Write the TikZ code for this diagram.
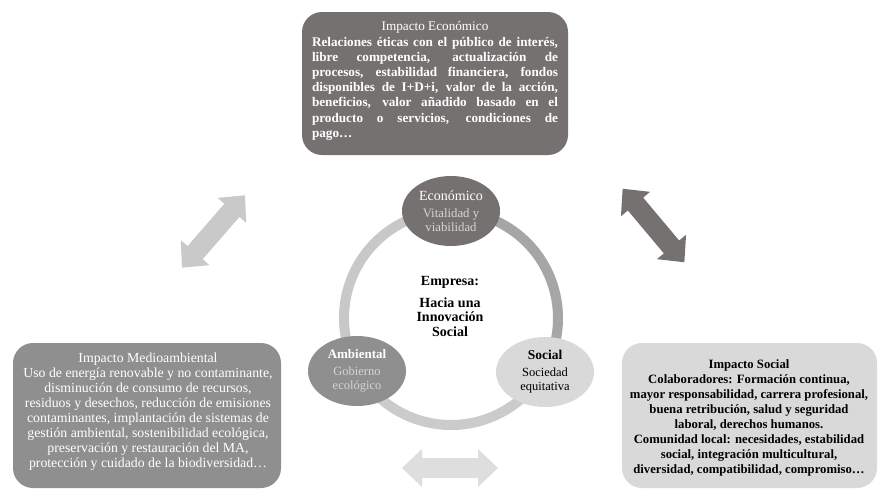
\documentclass[tikz,border=0pt]{standalone}
\usepackage{fontspec}
\setmainfont{Liberation Serif}
\usetikzlibrary{shapes.geometric}
\definecolor{darkg}{HTML}{767171}
\definecolor{midg}{HTML}{8F8F8F}
\definecolor{lightg}{HTML}{D9D9D9}
\definecolor{ringl}{HTML}{C8C8C8}
\definecolor{ringb}{HTML}{CBCBCB}
\definecolor{ringr}{HTML}{A6A6A6}
\definecolor{arrl}{HTML}{C9C9C9}
\definecolor{arrb}{HTML}{DEDEDE}
\definecolor{subt}{HTML}{D4D4D4}
\tikzset{
  impbox/.style={rounded corners=20pt, inner sep=0pt},
  circnode/.style={ellipse, minimum width=98pt, minimum height=70pt, inner sep=0pt, align=center},
  ringarc/.style={line width=10pt},
  dblarrow/.pic={\path[pic actions] (-48,0) -- (-28,-19) -- (-28,-10) -- (28,-10) -- (28,-19) -- (48,0) -- (28,19) -- (28,10) -- (-28,10) -- (-28,19) -- cycle;}
}
\begin{document}
\begin{tikzpicture}[x=1pt,y=-1pt]
\useasboundingbox (0,0) rectangle (878,493);
% boxes
\fill[darkg, impbox] (302,12) rectangle (568,155);
\fill[midg, impbox] (13,343) rectangle (281,488);
\fill[lightg, impbox] (622,343) rectangle (877,488);
\node[text=white, text width=246pt, align=justify, inner sep=0pt, font=\fontsize{13.2}{15.2}\selectfont] (eco) at (435,81)
{\hyphenpenalty=10000{\centering Impacto Económico\par}\bfseries
Relaciones éticas con el público de interés,\linebreak
libre competencia, actualización de\linebreak
procesos, estabilidad financiera, fondos\linebreak
disponibles de I+D+i, valor de la acción,\linebreak
beneficios, valor añadido basado en el\linebreak
producto o servicios, condiciones de\linebreak
pago…};
\node[text=white, align=center, inner sep=0pt, font=\fontsize{13.8}{15}\selectfont] (amb) at (148,412)
{Impacto Medioambiental\\
Uso de energía renovable y no contaminante,\\
disminución de consumo de recursos,\\
residuos y desechos, reducción de emisiones\\
contaminantes, implantación de sistemas de\\
gestión ambiental, sostenibilidad ecológica,\\
preservación y restauración del MA,\\
protección y cuidado de la biodiversidad…};
\node[text=black, align=center, inner sep=0pt, font=\fontsize{12.7}{15}\selectfont\bfseries] (soc) at (749,418)
{Impacto Social\\
Colaboradores: Formación continua,\\
mayor responsabilidad, carrera profesional,\\
buena retribución, salud y seguridad\\
laboral, derechos humanos.\\
Comunidad local: necesidades, estabilidad\\
social, integración multicultural,\\
diversidad, compatibilidad, compromiso…};
% ring
\coordinate (rc) at (451,318);
\draw[ringarc, ringl] (rc) ++(270:107) arc[start angle=270, end angle=150, radius=107];
\draw[ringarc, ringb] (rc) ++(150:107) arc[start angle=150, end angle=30, radius=107];
\draw[ringarc, ringr] (rc) ++(30:107) arc[start angle=30, end angle=-90, radius=107];
% circle nodes
\node[circnode, fill=darkg, text=subt, font=\fontsize{12.8}{14}\selectfont] (ceco) at (451,211)
{{\fontsize{14}{16}\selectfont\color{white}Económico}\\[3pt]Vitalidad y\\viabilidad};
\node[circnode, fill=midg, text=subt, font=\fontsize{12.5}{14}\selectfont] (camb) at (357,371)
{{\fontsize{13}{16}\selectfont\bfseries\color{white}Ambiental}\\[3pt]Gobierno\\ecológico};
\node[circnode, fill=lightg, text=black, font=\fontsize{12.5}{14}\selectfont] (csoc) at (545,372)
{{\fontsize{13.5}{16}\selectfont\bfseries Social}\\[3pt]Sociedad\\equitativa};
% centre text
\node[font=\fontsize{14}{14.5}\selectfont\bfseries] (emp) at (450,282) {Empresa:};
\node[font=\fontsize{14}{14.5}\selectfont\bfseries, align=center] (hacia) at (450,317) {Hacia una\\Innovación\\Social};
% arrows
\pic[fill=arrl, rotate=49] at (213.5,231.5) {dblarrow};
\pic[fill=darkg, rotate=-50] at (653.5,225.5) {dblarrow};
\pic[fill=arrb] at (450,468) {dblarrow};
\end{tikzpicture}
\end{document}
